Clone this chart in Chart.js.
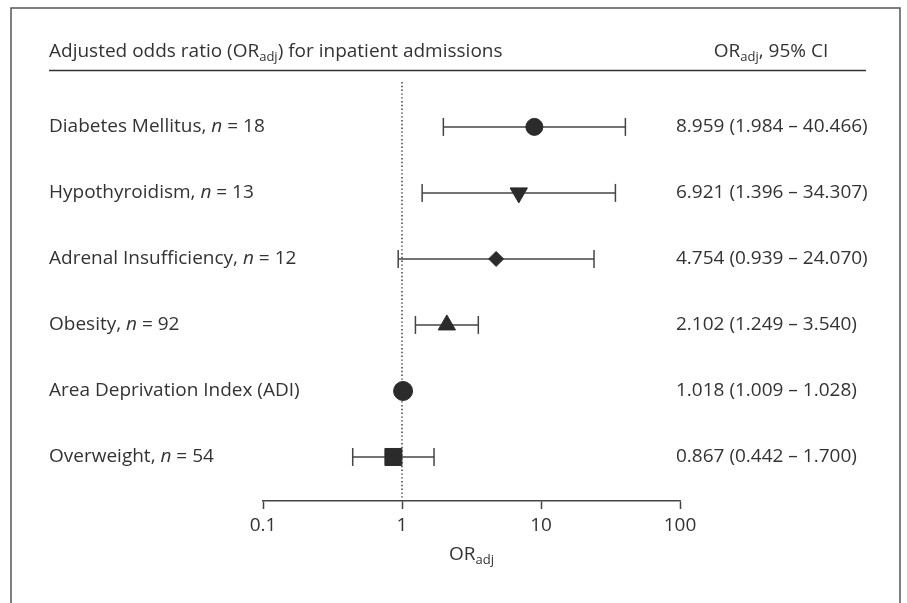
<!DOCTYPE html>
<html>
<head>
<meta charset="utf-8">
<script src="https://cdn.jsdelivr.net/npm/chart.js@4.4.1/dist/chart.umd.min.js"></script>
<style>
  html, body { margin: 0; padding: 0; background: #fff; }
  #wrap { width: 907px; height: 603px; position: relative; }
</style>
</head>
<body>
<div id="wrap"><canvas id="forestChart"></canvas></div>
<script>
const rowLabels = ["Diabetes Mellitus", "Hypothyroidism", "Adrenal Insufficiency", "Obesity", "Area Deprivation Index (ADI)", "Overweight"];
const rowCounts = [18, 13, 12, 92, null, 54];
const oddsRatios = [8.959, 6.921, 4.754, 2.102, 1.018, 0.867];
const ciLower = [1.984, 1.396, 0.939, 1.249, 1.009, 0.442];
const ciUpper = [40.466, 34.307, 24.070, 3.540, 1.028, 1.700];
const xTickValues = [0.1, 1, 10, 100];

const markerStyles = ["circle", "triangle", "rectRot", "triangle", "circle", "rect"];
const markerSizes = [8.5, 10, 7.5, 10, 9.5, 12];
const markerRotations = [0, 180, 0, 0, 0, 0];

const rowIndex = rowLabels.map((_, i) => i + 1);
const yMin = 0.32;
const yMax = 6.667;
const textColor = "#333";
const lineColor = "#444";
const fontFamily = "'Open Sans', sans-serif";
const fontSize = 19;
const subSize = 13;

// draws a row of text pieces (normal / italic / subscript), returns total width
function drawRuns(ctx, x, y, runs, measureOnly) {
  let cx = x;
  runs.forEach(run => {
    const size = run.sub ? subSize : fontSize;
    ctx.font = `${run.italic ? "italic " : ""}${size}px ${fontFamily}`;
    if (!measureOnly) ctx.fillText(run.text, cx, run.sub ? y + 5 : y);
    cx += ctx.measureText(run.text).width;
  });
  return cx - x;
}

function labelRuns(i) {
  if (rowCounts[i] === null) return [{ text: rowLabels[i] }];
  return [{ text: rowLabels[i] + ", " }, { text: "n", italic: true }, { text: " = " + rowCounts[i] }];
}

const fmt = v => v.toFixed(3);

const forestText = {
  id: "forestText",
  afterDraw(chart) {
    const { ctx, scales: { x, y } } = chart;
    ctx.save();

    // frame
    ctx.strokeStyle = "#555";
    ctx.lineWidth = 1.5;
    ctx.beginPath();
    ctx.moveTo(11, 610);
    ctx.lineTo(11, 8);
    ctx.lineTo(900, 8);
    ctx.lineTo(900, 610);
    ctx.stroke();

    ctx.fillStyle = textColor;
    ctx.textBaseline = "middle";
    ctx.textAlign = "left";

    // header row
    drawRuns(ctx, 49, 52, [
      { text: "Adjusted odds ratio (OR" }, { text: "adj", sub: true }, { text: ") for inpatient admissions" }
    ]);
    const ciHead = [{ text: "OR" }, { text: "adj", sub: true }, { text: ", 95% CI" }];
    const headW = drawRuns(ctx, 0, 0, ciHead, true);
    drawRuns(ctx, 771 - headW / 2, 52, ciHead);

    ctx.strokeStyle = "#333";
    ctx.lineWidth = 1.5;
    ctx.beginPath();
    ctx.moveTo(49, 70.5);
    ctx.lineTo(866, 70.5);
    ctx.stroke();

    // row labels and values
    rowIndex.forEach((r, i) => {
      const py = y.getPixelForValue(r);
      drawRuns(ctx, 49, py, labelRuns(i));
      drawRuns(ctx, 676, py, [{ text: `${fmt(oddsRatios[i])} (${fmt(ciLower[i])} \u2013 ${fmt(ciUpper[i])})` }]);
    });

    // axis title
    const titleRuns = [{ text: "OR" }, { text: "adj", sub: true }];
    const tw = drawRuns(ctx, 0, 0, titleRuns, true);
    drawRuns(ctx, (x.left + x.right) / 2 - tw / 2, 555, titleRuns);

    ctx.restore();
  }
};

const errorBarSets = rowIndex.map((r, i) => ({
  type: "line",
  data: [{ x: ciLower[i], y: r }, { x: ciUpper[i], y: r }],
  borderColor: lineColor,
  borderWidth: 1.5,
  pointStyle: "line",
  pointRotation: 90,
  pointRadius: 9,
  pointBorderColor: lineColor,
  pointBorderWidth: 1.5,
  pointBackgroundColor: lineColor
}));

new Chart(document.getElementById("forestChart"), {
  type: "scatter",
  data: {
    datasets: [
      {
        data: rowIndex.map((r, i) => ({ x: oddsRatios[i], y: r })),
        pointStyle: markerStyles,
        pointRadius: markerSizes,
        pointRotation: markerRotations,
        backgroundColor: "#2b2b2b",
        borderColor: "#2b2b2b",
        borderWidth: 1
      },
      ...errorBarSets,
      {
        type: "line",
        data: [{ x: 1, y: yMin }, { x: 1, y: yMax }],
        borderColor: "#333",
        borderWidth: 1.4,
        borderDash: [1.4, 2.4],
        pointRadius: 0
      }
    ]
  },
  options: {
    responsive: true,
    maintainAspectRatio: false,
    animation: false,
    layout: {
      padding: { top: 82, left: 263, right: 227, bottom: 62 }
    },
    scales: {
      x: {
        type: "logarithmic",
        min: 0.1,
        max: 100,
        afterBuildTicks: scale => {
          scale.ticks = xTickValues.map(v => ({ value: v }));
        },
        afterFit: scale => {
          scale.paddingLeft = 0;
          scale.paddingRight = 0;
          scale.height = 40;
        },
        ticks: {
          autoSkip: false,
          maxRotation: 0,
          padding: 5,
          color: textColor,
          font: { family: fontFamily, size: fontSize },
          callback: value => String(value)
        },
        grid: {
          drawOnChartArea: false,
          drawTicks: true,
          tickLength: 8,
          tickColor: lineColor,
          tickWidth: 1.5
        },
        border: {
          display: true,
          color: lineColor,
          width: 1.5
        }
      },
      y: {
        type: "linear",
        display: false,
        reverse: true,
        min: yMin,
        max: yMax
      }
    },
    plugins: {
      legend: { display: false },
      tooltip: { enabled: false }
    }
  },
  plugins: [forestText]
});
</script>
</body>
</html>
